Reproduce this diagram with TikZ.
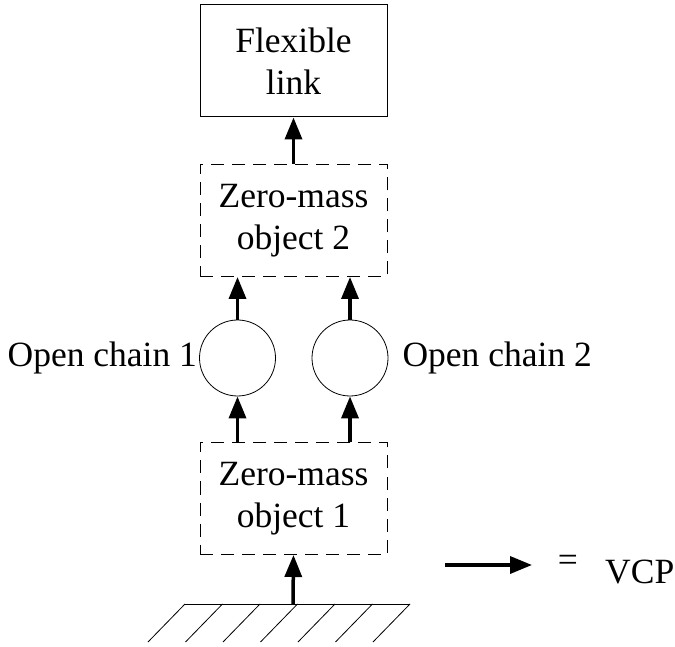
\documentclass[tikz,border=0pt]{standalone}
\usepackage{fontspec}
\setmainfont{Liberation Serif}
\usetikzlibrary{arrows.meta, positioning}

\begin{document}
\begin{tikzpicture}[x=1pt, y=1pt,
  font=\fontsize{35.5}{42}\selectfont,
  block/.style={draw, line width=1pt, minimum width=187pt,
    minimum height=112pt, align=center, inner sep=0pt},
  zeromass/.style={block, dash pattern=on 13pt off 8pt},
  chain/.style={draw, circle, line width=0.8pt, minimum size=76pt, inner sep=0pt},
  vcp/.style={-{Triangle[length=22pt, width=17pt]}, line width=3.5pt}]

\useasboundingbox (0,0) rectangle (675,646);

% --- Blocks ---
\node[block] (link) at (293.5,585) {Flexible\\link};
\node[zeromass] (zmo2) at (293.5,425.5) {Zero-mass\\object 2};
\node[zeromass] (zmo1) at (293.5,147.5) {Zero-mass\\object 1};

% --- Open chains ---
\node[chain] (chain1) at (237.5,288) {};
\node[chain] (chain2) at (350,288) {};
\node[left=2pt of chain1, inner sep=0pt] (lbl1) {Open chain 1};
\node[right=14pt of chain2, inner sep=0pt] (lbl2) {Open chain 2};

% --- Ground (hatched) ---
\coordinate (ground) at (293,42);
\draw[line width=0.8pt] (185,42) -- (410,42);
\foreach \k in {0,...,6}
  \draw[line width=0.8pt] (185+37.5*\k,42) -- ++(-37,-38);

% --- VCP arrows ---
\draw[vcp] (ground) -- (zmo1.south);
\draw[vcp] (chain1 |- zmo1.north) -- (chain1.south);
\draw[vcp] (chain2 |- zmo1.north) -- (chain2.south);
\draw[vcp] (chain1.north) -- (chain1 |- zmo2.south);
\draw[vcp] (chain2.north) -- (chain2 |- zmo2.south);
\draw[vcp] (zmo2.north) -- (link.south);

% --- Legend ---
\coordinate (legA) at (445,81);
\coordinate (legB) at (532,81);
\draw[vcp] (legA) -- (legB);
\node[inner sep=0pt] (eq) at (568,83) {=};
\node[anchor=base west, inner sep=0pt] (vcpname) at (605,63) {VCP};

\end{tikzpicture}
\end{document}
